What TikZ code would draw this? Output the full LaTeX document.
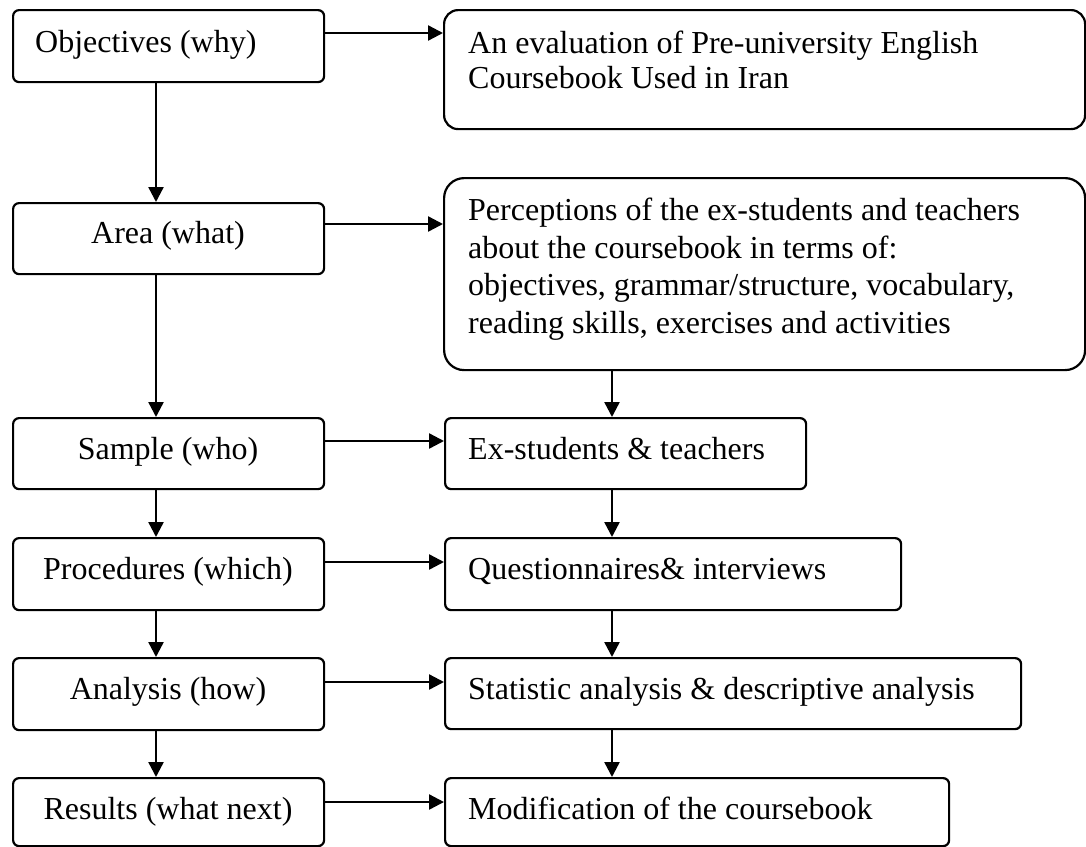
\documentclass[tikz,border=0pt]{standalone}
\usepackage{fontspec}
\setmainfont{Liberation Serif}
\usetikzlibrary{arrows.meta}
\begin{document}
\begin{tikzpicture}[x=1pt,y=-1pt,
  box/.style={draw, line width=2.2pt, rounded corners=6pt, inner sep=0pt, anchor=north west},
  lbl/.style={font=\fontsize{32}{37}\selectfont, inner sep=0pt},
  arr/.style={line width=2.4pt, -{Triangle[length=15pt,width=15pt]}}]
\useasboundingbox (0,0) rectangle (1086,846);
% left column
\node[box, minimum width=311pt, minimum height=72pt] (obj)  at (12,9)   {};
\node[box, minimum width=311pt, minimum height=71pt] (area) at (12,202) {};
\node[box, minimum width=311pt, minimum height=71pt] (samp) at (12,417) {};
\node[box, minimum width=311pt, minimum height=72pt] (proc) at (12,537) {};
\node[box, minimum width=311pt, minimum height=72pt] (anal) at (12,657) {};
\node[box, minimum width=311pt, minimum height=68pt] (res)  at (12,777) {};
% right column
\node[box, rounded corners=14pt, minimum width=641pt, minimum height=119pt] (eval) at (443,9)   {};
\node[box, rounded corners=20pt, minimum width=641pt, minimum height=192pt] (perc) at (443,177) {};
\node[box, minimum width=361pt, minimum height=71pt] (exs)  at (444,417) {};
\node[box, minimum width=456pt, minimum height=72pt] (ques) at (444,537) {};
\node[box, minimum width=576pt, minimum height=71pt] (stat) at (444,657) {};
\node[box, minimum width=504pt, minimum height=68pt] (modi) at (444,777) {};
% left texts
\node[lbl, anchor=base west] (tobj)  at (35,52)  {Objectives (why)};
\node[lbl, anchor=base] (tarea) at (168,243) {Area (what)};
\node[lbl, anchor=base] (tsamp) at (168,459) {Sample (who)};
\node[lbl, anchor=base] (tproc) at (168,579) {Procedures (which)};
\node[lbl, anchor=base] (tanal) at (168,699) {Analysis (how)};
\node[lbl, anchor=base] (tres)  at (168,819) {Results (what next)};
% right texts
\node[lbl, anchor=base west] (teval1) at (468,53) {An evaluation of Pre-university English};
\node[lbl, anchor=base west] (teval2) at (468,88) {Coursebook Used in Iran};
\node[lbl, anchor=base west] (tperc1) at (468,220) {Perceptions of the ex-students and teachers};
\node[lbl, anchor=base west] (tperc2) at (468,258) {about the coursebook in terms of:};
\node[lbl, anchor=base west] (tperc3) at (468,295) {objectives, grammar/structure, vocabulary,};
\node[lbl, anchor=base west] (tperc4) at (468,333) {reading skills, exercises and activities};
\node[lbl, anchor=base west] (texs)  at (468,459) {Ex-students \& teachers};
\node[lbl, anchor=base west] (tques) at (468,579) {Questionnaires\& interviews};
\node[lbl, anchor=base west] (tstat) at (468,699) {Statistic analysis \& descriptive analysis};
\node[lbl, anchor=base west] (tmodi) at (468,819) {Modification of the coursebook};
% horizontal arrows
\draw[arr] (obj.east  |- 0,33)  -- (eval.west |- 0,33);
\draw[arr] (area.east |- 0,224) -- (perc.west |- 0,224);
\draw[arr] (samp.east |- 0,441) -- (exs.west  |- 0,441);
\draw[arr] (proc.east |- 0,562) -- (ques.west |- 0,562);
\draw[arr] (anal.east |- 0,682) -- (stat.west |- 0,682);
\draw[arr] (res.east  |- 0,802) -- (modi.west |- 0,802);
% left vertical arrows
\draw[arr] (obj.south  -| 156,0) -- (area.north -| 156,0);
\draw[arr] (area.south -| 156,0) -- (samp.north -| 156,0);
\draw[arr] (samp.south -| 156,0) -- (proc.north -| 156,0);
\draw[arr] (proc.south -| 156,0) -- (anal.north -| 156,0);
\draw[arr] (anal.south -| 156,0) -- (res.north  -| 156,0);
% right vertical arrows
\draw[arr] (perc.south -| 612,0) -- (exs.north  -| 612,0);
\draw[arr] (exs.south  -| 612,0) -- (ques.north -| 612,0);
\draw[arr] (ques.south -| 612,0) -- (stat.north -| 612,0);
\draw[arr] (stat.south -| 612,0) -- (modi.north -| 612,0);
\end{tikzpicture}
\end{document}
